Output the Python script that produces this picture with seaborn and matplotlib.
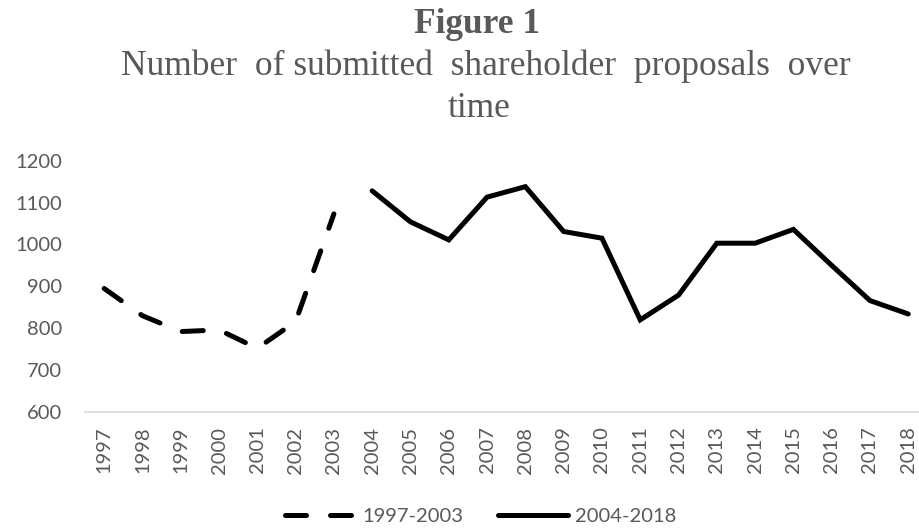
import pandas as pd
import seaborn as sns
import matplotlib.pyplot as plt

# values
years_early = [1997, 1998, 1999, 2000, 2001, 2002, 2003]
proposals_early = [895, 830, 792, 796, 752, 816, 1073]
years_late = [2004, 2005, 2006, 2007, 2008, 2009, 2010, 2011, 2012,
              2013, 2014, 2015, 2016, 2017, 2018]
proposals_late = [1128, 1054, 1011, 1113, 1138, 1031, 1015, 820, 879,
                  1003, 1003, 1036, 950, 866, 834]
period_labels = ['1997-2003', '2004-2018']
y_ticks = [600, 700, 800, 900, 1000, 1100, 1200]

df = pd.concat([
    pd.DataFrame({'year': years_early, 'proposals': proposals_early, 'period': period_labels[0]}),
    pd.DataFrame({'year': years_late, 'proposals': proposals_late, 'period': period_labels[1]}),
], ignore_index=True)

sns.set_style('white')
plt.rcParams['font.family'] = ['Lato', 'DejaVu Sans']
GREY = '#595959'
LW = 3.6
DASH = (4.2, 4.8)

fig = plt.figure(figsize=(9.19, 5.29), dpi=100)
ax = fig.add_axes([85 / 919, 1 - 412 / 529, (919 - 85) / 919, (412 - 160.7) / 529])

sns.lineplot(data=df, x='year', y='proposals', style='period',
             dashes={period_labels[0]: DASH, period_labels[1]: ''},
             color='black', linewidth=LW, ax=ax, legend=False)
for line in ax.get_lines():
    line.set_dash_capstyle('round')
    line.set_solid_capstyle('round')
    line.set_solid_joinstyle('miter')

ax.set_xlim(1996.5, 2018.28)
ax.set_ylim(600, 1200)
ax.set_xticks(years_early + years_late)
ax.set_xticklabels([str(y) for y in years_early + years_late], rotation=90,
                   fontsize=14.5, color=GREY)
ax.set_yticks(y_ticks)
ax.set_yticklabels([str(v) for v in y_ticks], fontsize=14.5, color=GREY)
ax.tick_params(axis='both', length=0)
ax.tick_params(axis='y', pad=16.5)
ax.tick_params(axis='x', pad=10.5)
ax.set_xlabel('')
ax.set_ylabel('')
for side in ['top', 'right', 'left']:
    ax.spines[side].set_visible(False)
ax.spines['bottom'].set_color('#d9d9d9')
ax.spines['bottom'].set_linewidth(1.2)

# legend built from the two series styles
handles = [plt.Line2D([], [], color='black', lw=LW, dashes=DASH, dash_capstyle='round'),
           plt.Line2D([], [], color='black', lw=LW, solid_capstyle='round')]
fig.legend(handles, period_labels, loc='center', bbox_to_anchor=(0.523, 0.023),
           ncol=2, frameon=False, fontsize=14.5, handlelength=3.5,
           handletextpad=0.35, columnspacing=1.7, labelcolor=GREY)

serif = ['Liberation Serif', 'DejaVu Serif']
fig.text(0.519, 1 - 33 / 529, 'Figure 1', ha='center', va='baseline', fontsize=25.5,
         fontweight='bold', family=serif, color=GREY)
fig.text(0.529, 1 - 75 / 529, 'Number  of submitted  shareholder  proposals  over',
         ha='center', va='baseline', fontsize=25.5, family=serif, color=GREY)
fig.text(0.521, 1 - 117 / 529, 'time', ha='center', va='baseline', fontsize=25.5,
         family=serif, color=GREY)

fig.savefig('out.png', dpi=100)
